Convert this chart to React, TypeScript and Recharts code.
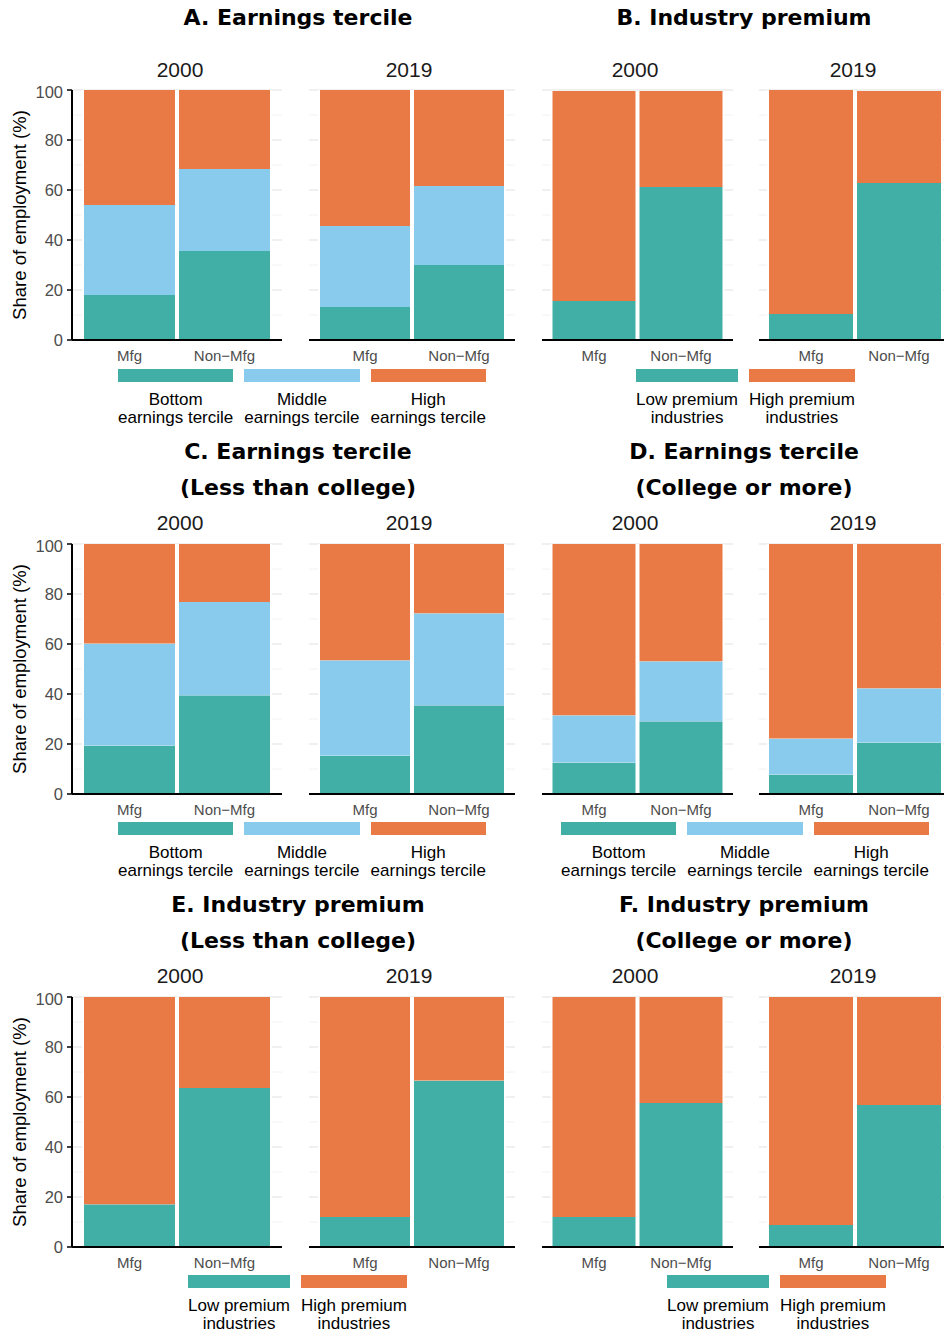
import React from "react";
import { BarChart, Bar, XAxis, YAxis, CartesianGrid } from "recharts";

// ---------- data ----------
const categories = ["Mfg", "Non\u2212Mfg"];
const years = ["2000", "2019"];

const tercileNames = ["Bottom", "Middle", "High"];
const tercileSub = "earnings tercile";
const tercileColors = ["#41AFA5", "#89CBEC", "#EA7A45"];
const premiumNames = ["Low premium", "High premium"];
const premiumSub = "industries";
const premiumColors = ["#41AFA5", "#EA7A45"];

const yTicks = [0, 20, 40, 60, 80, 100];
const yMinor = [10, 30, 50, 70, 90];

// A. Earnings tercile
const aBottom2000 = [18.0, 35.6];
const aMiddle2000 = [36.0, 32.8];
const aHigh2000 = [46.0, 31.6];
const aBottom2019 = [13.2, 30.0];
const aMiddle2019 = [32.4, 31.6];
const aHigh2019 = [54.4, 38.4];
// B. Industry premium
const bLow2000 = [15.6, 61.2];
const bHigh2000 = [84.0, 38.4];
const bLow2019 = [10.4, 62.8];
const bHigh2019 = [89.6, 36.8];
// C. Earnings tercile (Less than college)
const cBottom2000 = [19.4, 39.5];
const cMiddle2000 = [40.8, 37.3];
const cHigh2000 = [39.8, 23.2];
const cBottom2019 = [15.4, 35.5];
const cMiddle2019 = [38.1, 36.8];
const cHigh2019 = [46.5, 27.7];
// D. Earnings tercile (College or more)
const dBottom2000 = [12.6, 29.1];
const dMiddle2000 = [18.9, 24.0];
const dHigh2000 = [68.5, 46.9];
const dBottom2019 = [7.8, 20.6];
const dMiddle2019 = [14.4, 21.7];
const dHigh2019 = [77.8, 57.7];
// E. Industry premium (Less than college)
const eLow2000 = [17.1, 63.6];
const eHigh2000 = [82.9, 36.4];
const eLow2019 = [12.0, 66.6];
const eHigh2019 = [88.0, 33.4];
// F. Industry premium (College or more)
const fLow2000 = [12.0, 57.6];
const fHigh2000 = [88.0, 42.4];
const fLow2019 = [8.8, 56.8];
const fHigh2019 = [91.2, 43.2];

// ---------- panels ----------
type Panel = {
  title: string[];
  row: number;
  col: number;
  names: string[];
  sub: string;
  colors: string[];
  facets: number[][][];
  legendLeft: number;
};

const panels: Panel[] = [
  { title: ["A. Earnings tercile"], row: 0, col: 0, names: tercileNames, sub: tercileSub, colors: tercileColors,
    facets: [[aBottom2000, aMiddle2000, aHigh2000], [aBottom2019, aMiddle2019, aHigh2019]], legendLeft: 118 },
  { title: ["B. Industry premium"], row: 0, col: 1, names: premiumNames, sub: premiumSub, colors: premiumColors,
    facets: [[bLow2000, bHigh2000], [bLow2019, bHigh2019]], legendLeft: 636 },
  { title: ["C. Earnings tercile", "(Less than college)"], row: 1, col: 0, names: tercileNames, sub: tercileSub, colors: tercileColors,
    facets: [[cBottom2000, cMiddle2000, cHigh2000], [cBottom2019, cMiddle2019, cHigh2019]], legendLeft: 118 },
  { title: ["D. Earnings tercile", "(College or more)"], row: 1, col: 1, names: tercileNames, sub: tercileSub, colors: tercileColors,
    facets: [[dBottom2000, dMiddle2000, dHigh2000], [dBottom2019, dMiddle2019, dHigh2019]], legendLeft: 561 },
  { title: ["E. Industry premium", "(Less than college)"], row: 2, col: 0, names: premiumNames, sub: premiumSub, colors: premiumColors,
    facets: [[eLow2000, eHigh2000], [eLow2019, eHigh2019]], legendLeft: 188 },
  { title: ["F. Industry premium", "(College or more)"], row: 2, col: 1, names: premiumNames, sub: premiumSub, colors: premiumColors,
    facets: [[fLow2000, fHigh2000], [fLow2019, fHigh2019]], legendLeft: 667 },
];

// ---------- layout ----------
const rowLayout = [
  { plotTop: 90, plotH: 250, titleBase: [25], facetBase: 76.7, legendTop: 369 },
  { plotTop: 544, plotH: 250, titleBase: [459, 495], facetBase: 529.5, legendTop: 822 },
  { plotTop: 997, plotH: 250, titleBase: [912, 948], facetBase: 983, legendTop: 1275 },
];
const colLayout = [
  { titleX: 298, facets: [
    { left: 72, w: 210, pad: 10, labelX: 180, showY: true },
    { left: 309, w: 206, pad: 9, labelX: 409, showY: false },
  ] },
  { titleX: 744, facets: [
    { left: 542, w: 191, pad: 8.5, labelX: 635, showY: false },
    { left: 759, w: 192, pad: 8, labelX: 853, showY: false },
  ] },
];

const FONT = '"Liberation Sans", Arial, Helvetica, sans-serif';
const Y_AXIS_W = 72;
const MT = 8;
const XH = 30;

function makeRows(series: number[][]) {
  return categories.map((c, i) => {
    const r: any = { cat: c };
    series.forEach((s, j) => {
      r["s" + j] = s[i];
    });
    return r;
  });
}

const GapBar = (props: any) => {
  const { x, y, width, height, color } = props;
  if (x == null || y == null || !width || !height) return null;
  return (
    <g>
      <rect x={x} y={y} width={width} height={height} fill="#ffffff" />
      <rect x={x + 2} y={y} width={Math.max(0, width - 4)} height={height} fill={color} />
    </g>
  );
};

function Facet({ series, colors, left, top, w, h, pad, showY }: any) {
  const yW = showY ? Y_AXIS_W : 0;
  const data = makeRows(series);
  return (
    <div style={{ position: "absolute", left: left - yW, top: top - MT }}>
      <BarChart
        width={yW + w + 2}
        height={MT + h + XH}
        data={data}
        margin={{ top: MT, right: 2, bottom: 0, left: 0 }}
        barCategoryGap={0}
        barGap={0}
      >
        <CartesianGrid vertical={false} horizontalValues={yMinor} stroke="#f1f1f1" strokeWidth={0.9} />
        <CartesianGrid vertical={false} horizontalValues={yTicks} stroke="#ebebeb" strokeWidth={1.4} />
        <XAxis
          dataKey="cat"
          interval={0}
          padding={{ left: pad, right: pad }}
          tickLine={false}
          axisLine={{ stroke: "#000", strokeWidth: 2 }}
          tick={{ fill: "#4d4d4d", fontSize: 15 }}
          tickSize={6}
          tickMargin={4}
          height={XH}
        />
        <YAxis
          type="number"
          domain={[0, 100]}
          ticks={yTicks}
          allowDataOverflow
          hide={!showY}
          width={yW}
          axisLine={{ stroke: "#000", strokeWidth: 2 }}
          tickLine={{ stroke: "#000", strokeWidth: 1.5 }}
          tickSize={5}
          tickMargin={4}
          tick={{ fill: "#4d4d4d", fontSize: 16.5 }}
        />
        {series.map((_: number[], j: number) => (
          <Bar
            key={j}
            dataKey={"s" + j}
            stackId="s"
            fill={colors[j]}
            isAnimationActive={false}
            shape={(p: any) => <GapBar {...p} color={colors[j]} />}
          />
        ))}
      </BarChart>
    </div>
  );
}

function LegendBlock({ names, sub, colors, left, top }: any) {
  return (
    <div style={{ position: "absolute", left, top, display: "flex", flexDirection: "row", gap: 11 }}>
      {names.map((n: string, i: number) => (
        <div key={n} style={{ display: "flex", flexDirection: "column", alignItems: "stretch" }}>
          <div style={{ height: 13, background: colors[i] }} />
          <div
            style={{
              marginTop: 9,
              fontSize: 17,
              lineHeight: "18px",
              textAlign: "center",
              whiteSpace: "nowrap",
              color: "#000",
              fontFamily: FONT,
            }}
          >
            <div>{n}</div>
            <div>{sub}</div>
          </div>
        </div>
      ))}
    </div>
  );
}

export default function App() {
  return (
    <div
      style={{
        position: "absolute",
        left: 0,
        top: 0,
        width: 944,
        height: 1333,
        overflow: "hidden",
        background: "#ffffff",
        fontFamily: FONT,
      }}
    >
      {panels.map((p, pi) => {
        const rl = rowLayout[p.row];
        const cl = colLayout[p.col];
        return (
          <React.Fragment key={pi}>
            {cl.facets.map((f, fi) => (
              <Facet
                key={fi}
                series={p.facets[fi]}
                colors={p.colors}
                left={f.left}
                top={rl.plotTop}
                w={f.w}
                h={rl.plotH}
                pad={f.pad}
                showY={p.col === 0 && f.showY}
              />
            ))}
            <LegendBlock names={p.names} sub={p.sub} colors={p.colors} left={p.legendLeft} top={rl.legendTop} />
          </React.Fragment>
        );
      })}
      <svg
        width={944}
        height={1333}
        style={{ position: "absolute", left: 0, top: 0, pointerEvents: "none" }}
      >
        {panels.map((p, pi) => {
          const rl = rowLayout[p.row];
          const cl = colLayout[p.col];
          return (
            <g key={pi}>
              {p.title.map((t, ti) => (
                <text
                  key={ti}
                  x={cl.titleX}
                  y={rl.titleBase[ti]}
                  textAnchor="middle"
                  fontFamily='"DejaVu Sans", sans-serif'
                  fontWeight="bold"
                  fontSize={22}
                  fill="#000"
                >
                  {t}
                </text>
              ))}
              {cl.facets.map((f, fi) => (
                <text
                  key={"f" + fi}
                  x={f.labelX}
                  y={rl.facetBase}
                  textAnchor="middle"
                  fontFamily={FONT}
                  fontSize={21}
                  fill="#1a1a1a"
                >
                  {years[fi]}
                </text>
              ))}
              {p.col === 0 && (
                <text
                  transform={`translate(19, ${rl.plotTop + rl.plotH / 2}) rotate(-90)`}
                  textAnchor="middle"
                  dominantBaseline="central"
                  fontFamily={FONT}
                  fontSize={18.5}
                  fill="#000"
                >
                  Share of employment (%)
                </text>
              )}
            </g>
          );
        })}
      </svg>
    </div>
  );
}
